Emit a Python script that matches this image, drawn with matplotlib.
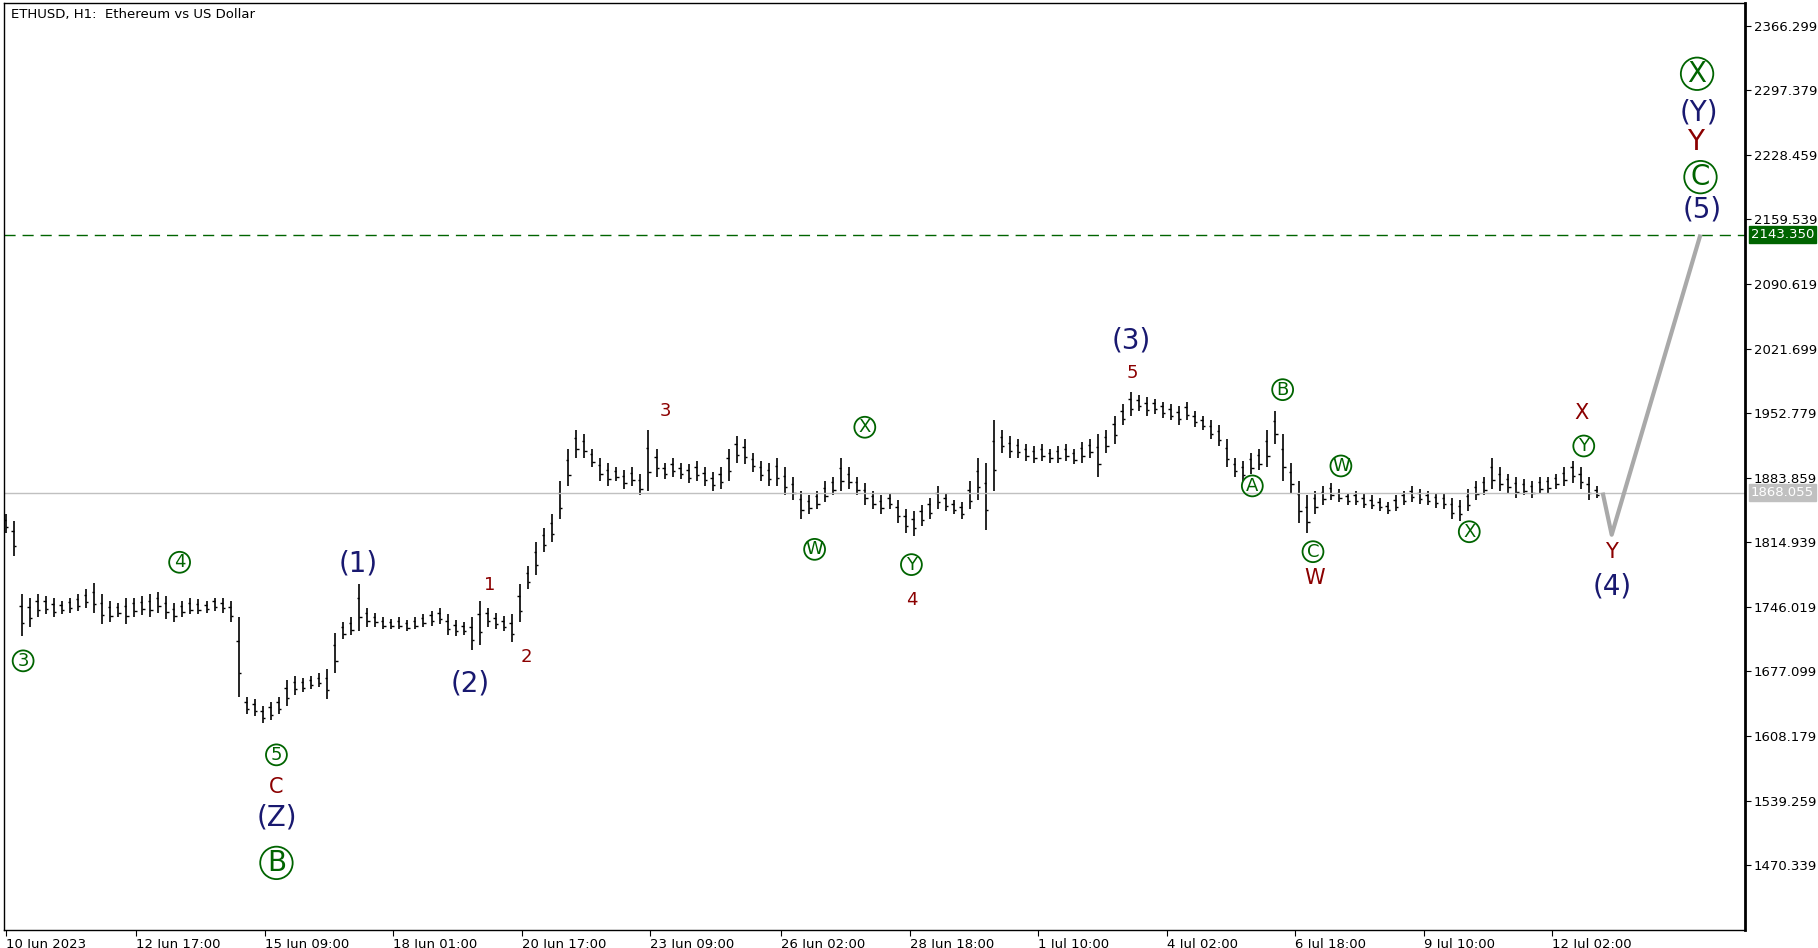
import matplotlib
matplotlib.use("Agg")
import matplotlib.pyplot as plt

# 4-hour (high, low) pairs, one row per day, starting 10 Jun 2023 00:00 (H1 bar index = 4 * i)
hilo = [
    (1845, 1825), (1838, 1800), (1760, 1715), (1755, 1725), (1760, 1735), (1758, 1738),
    (1755, 1735), (1752, 1738), (1756, 1740), (1760, 1742), (1765, 1745), (1772, 1740),
    (1760, 1728), (1752, 1730), (1750, 1735), (1755, 1728), (1756, 1735), (1758, 1737),
    (1760, 1735), (1762, 1740), (1758, 1733), (1750, 1730), (1752, 1735), (1755, 1738),
    (1754, 1738), (1752, 1740), (1756, 1742), (1755, 1740), (1752, 1730), (1735, 1650),
    (1650, 1632), (1648, 1630), (1640, 1622), (1645, 1625), (1650, 1632), (1668, 1640),
    (1672, 1652), (1670, 1655), (1672, 1658), (1675, 1660), (1680, 1648), (1718, 1675),
    (1730, 1712), (1735, 1716), (1770, 1720), (1745, 1725), (1740, 1725), (1735, 1722),
    (1733, 1722), (1735, 1722), (1732, 1720), (1735, 1722), (1738, 1725), (1742, 1726),
    (1745, 1728), (1738, 1716), (1732, 1715), (1730, 1716), (1735, 1700), (1752, 1705),
    (1745, 1725), (1740, 1722), (1736, 1720), (1738, 1708), (1770, 1730), (1790, 1765),
    (1815, 1780), (1830, 1805), (1845, 1815), (1880, 1840), (1915, 1875), (1935, 1905),
    (1930, 1905), (1915, 1895), (1905, 1880), (1900, 1875), (1895, 1880), (1892, 1872),
    (1895, 1875), (1888, 1865), (1935, 1870), (1915, 1885), (1900, 1882), (1905, 1885),
    (1900, 1882), (1898, 1878), (1902, 1880), (1895, 1875), (1890, 1870), (1895, 1872),
    (1915, 1880), (1928, 1900), (1925, 1898), (1910, 1890), (1902, 1880), (1900, 1875),
    (1905, 1875), (1895, 1865), (1885, 1860), (1870, 1840), (1865, 1845), (1870, 1850),
    (1880, 1858), (1885, 1865), (1905, 1870), (1895, 1872), (1885, 1865), (1878, 1855),
    (1870, 1850), (1865, 1845), (1868, 1850), (1860, 1835), (1850, 1825), (1848, 1822),
    (1855, 1832), (1862, 1840), (1875, 1850), (1868, 1848), (1860, 1845), (1858, 1840),
    (1880, 1850), (1905, 1860), (1900, 1828), (1945, 1870), (1935, 1910), (1928, 1905),
    (1925, 1905), (1920, 1902), (1918, 1900), (1920, 1902), (1915, 1900), (1918, 1900),
    (1920, 1902), (1915, 1898), (1922, 1900), (1925, 1905), (1930, 1885), (1935, 1910),
    (1950, 1920), (1962, 1940), (1975, 1950), (1972, 1955), (1970, 1950), (1968, 1952),
    (1965, 1948), (1962, 1945), (1960, 1940), (1965, 1945), (1955, 1938), (1950, 1935),
    (1945, 1925), (1940, 1918), (1925, 1895), (1905, 1885), (1902, 1880), (1910, 1888),
    (1915, 1892), (1935, 1895), (1955, 1920), (1930, 1880), (1900, 1868), (1880, 1835),
    (1865, 1825), (1870, 1845), (1875, 1855), (1878, 1860), (1872, 1858), (1868, 1855),
    (1870, 1855), (1866, 1852), (1865, 1850), (1862, 1848), (1858, 1845), (1865, 1848),
    (1870, 1855), (1875, 1858), (1872, 1856), (1870, 1855), (1868, 1852), (1868, 1850),
    (1862, 1840), (1860, 1838), (1872, 1848), (1880, 1860), (1885, 1865), (1905, 1872),
    (1895, 1870), (1888, 1868), (1885, 1862), (1882, 1865), (1880, 1862), (1885, 1866),
    (1885, 1868), (1888, 1872), (1895, 1875), (1902, 1878), (1895, 1872), (1885, 1860),
    (1875, 1862),
]
bar_step = 4

# projection path (bar index, price)
proj_x = [795, 799.5, 843.7]
proj_y = [1868.0, 1823.0, 2143.35]

target_price = 2143.35
last_price = 1868.055

xtick_pos = [0, 65, 129, 193, 257, 321, 386, 450, 514, 578, 642, 706, 770]
xtick_labels = ["10 Jun 2023", "12 Jun 17:00", "15 Jun 09:00", "18 Jun 01:00", "20 Jun 17:00",
                "23 Jun 09:00", "26 Jun 02:00", "28 Jun 18:00", "1 Jul 10:00", "4 Jul 02:00",
                "6 Jul 18:00", "9 Jul 10:00", "12 Jul 02:00"]
ytick_vals = [1470.339, 1539.259, 1608.179, 1677.099, 1746.019, 1814.939, 1883.859,
              1952.779, 2021.699, 2090.619, 2159.539, 2228.459, 2297.379, 2366.299]

# wave labels: (bar, price, text, kind)
labels = [
    (8.7, 1688.4, "3", "gs"), (86.6, 1793.6, "4", "gs"), (134.8, 1588.1, "5", "gs"),
    (134.8, 1554.3, "C", "r"), (134.8, 1521.7, "(Z)", "b"), (134.8, 1472.8, "B", "gl"),
    (175.5, 1792.4, "(1)", "b"), (231.3, 1664.6, "(2)", "b"),
    (241.1, 1769.8, "1", "rs"), (259.2, 1692.1, "2", "rs"), (328.3, 1955.3, "3", "rs"),
    (427.7, 1937.7, "X", "gs"), (402.7, 1807.4, "W", "gs"), (450.9, 1791.1, "Y", "gs"),
    (450.9, 1753.5, "4", "rs"),
    (560.1, 2030.5, "(3)", "b"), (560.7, 1995.4, "5", "rs"),
    (635.7, 1977.8, "B", "gs"), (620.6, 1875.1, "A", "gs"), (664.7, 1896.4, "W", "gs"),
    (650.8, 1804.9, "C", "gs"), (651.4, 1777.3, "W", "r"),
    (728.6, 1826.2, "X", "gs"), (784.4, 1952.8, "X", "r"), (785.6, 1917.7, "Y", "gs"),
    (799.5, 1804.9, "Y", "r"), (799.5, 1767.3, "(4)", "b"),
    (844.3, 2169.6, "(5)", "b"), (843.7, 2204.6, "C", "gl"), (841.4, 2242.2, "Y", "rl"),
    (843.1, 2273.6, "(Y)", "b"), (842.0, 2314.9, "X", "gl"),
]

GREEN = "#006400"
RED = "#8b0000"
NAVY = "#191970"

fig = plt.figure(figsize=(18.18, 9.48), dpi=100)
ax = fig.add_axes([0.002, 0.019, 0.958, 0.978])

for i, (hi, lo) in enumerate(hilo):
    x = i * bar_step
    ax.vlines(x, lo, hi, color="black", lw=1.2)
    ax.hlines(hi - (hi - lo) * 0.3, x - 1.2, x, color="black", lw=1)
    ax.hlines(lo + (hi - lo) * 0.3, x, x + 1.2, color="black", lw=1)

ax.axhline(last_price, color="#c0c0c0", lw=1)
ax.axhline(target_price, color=GREEN, lw=1, ls=(0, (8, 5)))
ax.plot(proj_x, proj_y, color="#a9a9a9", lw=3, solid_capstyle="butt")

for x, y, t, kind in labels:
    if kind.startswith("g"):
        size = 20 if kind == "gl" else 13
        ax.text(x, y, t, color=GREEN, fontsize=size, ha="center", va="center",
                bbox=dict(boxstyle="circle,pad=0.08", fc="none", ec=GREEN, lw=1.3))
    elif kind == "b":
        ax.text(x, y, t, color=NAVY, fontsize=20, ha="center", va="center")
    elif kind == "rs":
        ax.text(x, y, t, color=RED, fontsize=13, ha="center", va="center")
    else:
        ax.text(x, y, t, color=RED, fontsize=20 if kind == "rl" else 15, ha="center", va="center")

ax.set_xlim(-1, 866)
ax.set_ylim(1401.2, 2390.6)
ax.set_xticks(xtick_pos)
ax.set_xticklabels(xtick_labels, ha="left", fontsize=9.5)
ax.yaxis.tick_right()
ax.set_yticks(ytick_vals)
ax.set_yticklabels([f"{v:.3f}" for v in ytick_vals], fontsize=9.5)
ax.tick_params(direction="out", length=4, pad=2)
for s in ["left", "top", "bottom", "right"]:
    ax.spines[s].set_linewidth(1)
ax.spines["right"].set_linewidth(2)

ax.text(0.004, 0.994, "ETHUSD, H1:  Ethereum vs US Dollar", transform=ax.transAxes,
        fontsize=9.5, va="top", ha="left")
ax.text(1.003, target_price, f"{target_price:.3f}", transform=ax.get_yaxis_transform(),
        fontsize=9.5, va="center", ha="left", color="white",
        bbox=dict(boxstyle="square,pad=0.15", fc=GREEN, ec=GREEN))
ax.text(1.003, last_price, f"{last_price:.3f}", transform=ax.get_yaxis_transform(),
        fontsize=9.5, va="center", ha="left", color="white",
        bbox=dict(boxstyle="square,pad=0.15", fc="#c0c0c0", ec="#c0c0c0"))

fig.savefig("out.png", dpi=100)
